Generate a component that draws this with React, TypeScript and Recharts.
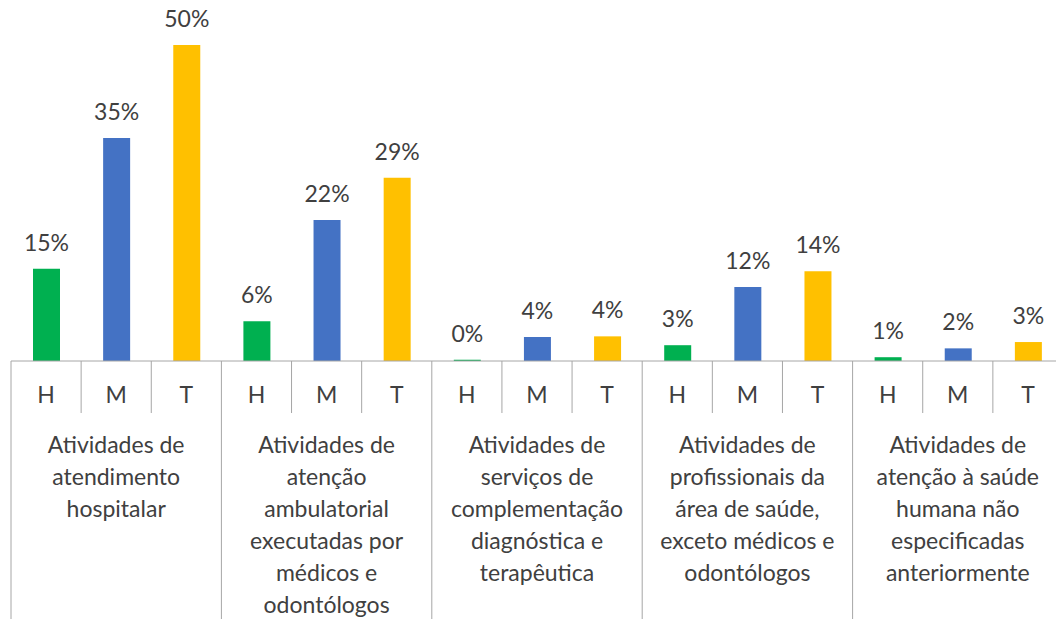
import { BarChart, Bar, XAxis, YAxis, Cell, LabelList } from 'recharts'

const groupNames = [
  ['Atividades de', 'atendimento', 'hospitalar'],
  ['Atividades de', 'atenção', 'ambulatorial', 'executadas por', 'médicos e', 'odontólogos'],
  ['Atividades de', 'serviços de', 'complementação', 'diagnóstica e', 'terapêutica'],
  ['Atividades de', 'profissionais da', 'área de saúde,', 'exceto médicos e', 'odontólogos'],
  ['Atividades de', 'atenção à saúde', 'humana não', 'especificadas', 'anteriormente'],
]
const subLabels = ['H', 'M', 'T']
const hValues = [14.6, 6.3, 0.2, 2.5, 0.6]
const mValues = [35.3, 22.3, 3.8, 11.7, 2.0]
const tValues = [50, 29, 3.9, 14.2, 3.0]
const subColors = ['#00b050', '#4472c4', '#ffc000']

const seriesValues = [hValues, mValues, tValues]
const data = groupNames.flatMap((g, gi) =>
  subLabels.map((s, si) => ({
    key: `${gi}-${s}`,
    sub: s,
    group: gi,
    value: seriesValues[si][gi],
  }))
)

const CHART_W = 1063
const CHART_H = 619
const LEFT = 11
const TOP = 45
const X_AXIS_H = 258
const BASE_Y = CHART_H - X_AXIS_H
const BAND = (CHART_W - LEFT) / data.length
const FONT = 'Lato, "Open Sans", sans-serif'
const FONT_SIZE = 23
const TEXT = '#404040'
const LINE = '#a6a6a6'

function CategoryTick(props: any) {
  const { x, index } = props
  const d = data[index]
  const left = x - BAND / 2
  const isGroupStart = index % 3 === 0
  const isGroupMid = index % 3 === 1
  const isLast = index === data.length - 1
  return (
    <g>
      <line
        x1={left}
        x2={left}
        y1={BASE_Y}
        y2={isGroupStart ? CHART_H : BASE_Y + 52}
        stroke={LINE}
        strokeWidth={1}
      />
      {isLast && (
        <line x1={x + BAND / 2} x2={x + BAND / 2} y1={BASE_Y} y2={CHART_H} stroke={LINE} />
      )}
      <text x={x} y={403} textAnchor="middle" fontSize={FONT_SIZE} fill={TEXT} fontFamily={FONT}>
        {d.sub}
      </text>
      {isGroupMid && (
        <text x={x} textAnchor="middle" fontSize={FONT_SIZE} fill={TEXT} fontFamily={FONT}>
          {groupNames[d.group].map((line, i) => (
            <tspan key={i} x={x} y={453 + i * 32}>
              {line}
            </tspan>
          ))}
        </text>
      )}
    </g>
  )
}

export default function App() {
  return (
    <div
      style={{
        position: 'absolute',
        left: 0,
        top: 0,
        width: 1056,
        height: 619,
        overflow: 'hidden',
        background: '#fff',
      }}
    >
      <BarChart
        width={CHART_W}
        height={CHART_H}
        data={data}
        margin={{ top: TOP, right: 0, bottom: 0, left: LEFT }}
      >
        <XAxis
          dataKey="key"
          height={X_AXIS_H}
          interval={0}
          tickLine={false}
          axisLine={{ stroke: LINE }}
          tick={<CategoryTick />}
        />
        <YAxis hide domain={[0, 50]} width={0} />
        <Bar dataKey="value" barSize={27} isAnimationActive={false}>
          {data.map((d, i) => (
            <Cell key={i} fill={subColors[i % 3]} />
          ))}
          <LabelList
            dataKey="value"
            position="top"
            offset={18}
            formatter={(v: any) => `${Math.round(Number(v))}%`}
            fill={TEXT}
            fontSize={FONT_SIZE}
            fontFamily={FONT}
          />
        </Bar>
      </BarChart>
    </div>
  )
}
